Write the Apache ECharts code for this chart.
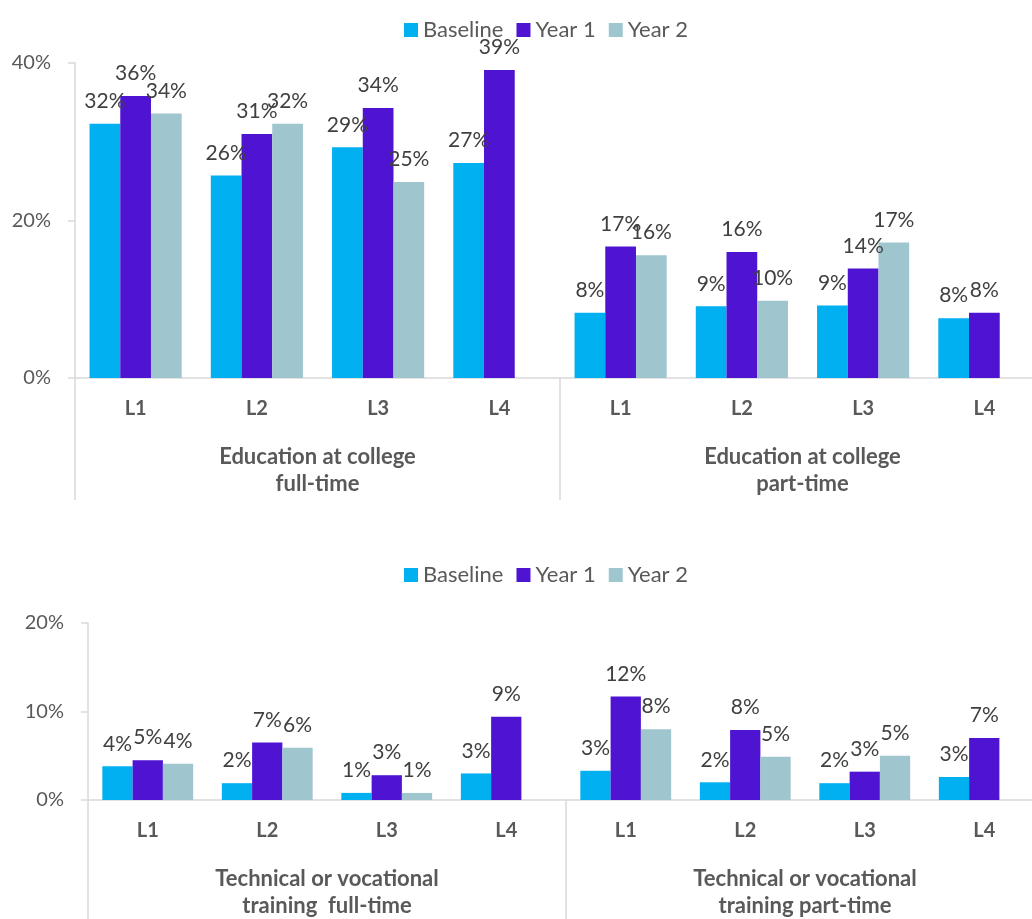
<!DOCTYPE html>
<html>
<head>
<meta charset="utf-8">
<script src="https://cdn.jsdelivr.net/npm/echarts@6/dist/echarts.min.js"></script>
<style>
  html, body { margin: 0; padding: 0; background: #ffffff; }
  #chart { width: 1032px; height: 919px; }
</style>
</head>
<body>
<div id="chart"></div>
<script>
// Category levels and the two groups shown under each panel
const levels = ['L1', 'L2', 'L3', 'L4'];
const collegeGroups = ['Education at college\nfull-time', 'Education at college\npart-time'];
const trainingGroups = ['Technical or vocational\ntraining  full-time', 'Technical or vocational\ntraining part-time'];
const seriesNames = ['Baseline', 'Year 1', 'Year 2'];

// Education at college: full-time L1-L4 then part-time L1-L4 (percent)
const collegeBaseline = [32.3, 25.7, 29.3, 27.3, 8.3, 9.1, 9.2, 7.6];
const collegeYear1    = [35.8, 31.0, 34.3, 39.1, 16.7, 16.0, 13.9, 8.3];
const collegeYear2    = [33.6, 32.3, 24.9, null, 15.6, 9.8, 17.2, null];

// Technical or vocational training: full-time L1-L4 then part-time L1-L4 (percent)
const trainingBaseline = [3.8, 1.9, 0.8, 3.0, 3.3, 2.0, 1.9, 2.6];
const trainingYear1    = [4.5, 6.5, 2.8, 9.4, 11.7, 7.9, 3.2, 7.0];
const trainingYear2    = [4.1, 5.9, 0.8, null, 8.0, 4.9, 5.0, null];

// Value axis ticks (percent)
const collegeTicks = [0, 20, 40];
const trainingTicks = [0, 10, 20];

const colors = ['#00B0F0', '#4E14D2', '#9FC6CE'];
const FONT = 'Lato';
const axisGrey = '#D9D9D9';
const textGrey = '#595959';

const collegeCats = collegeGroups.flatMap(() => levels);
const trainingCats = trainingGroups.flatMap(() => levels);

function valueAxis(gridIndex, ticks) {
  return {
    type: 'value',
    gridIndex: gridIndex,
    min: ticks[0],
    max: ticks[ticks.length - 1],
    interval: ticks[1] - ticks[0],
    axisLine: { show: true, lineStyle: { color: axisGrey, width: 1.5 } },
    axisTick: { show: true, length: 7, lineStyle: { color: axisGrey, width: 1.5 } },
    splitLine: { show: false },
    axisLabel: {
      formatter: '{value}%',
      color: textGrey,
      fontFamily: FONT,
      fontSize: 20,
      margin: 24
    }
  };
}

function levelAxis(gridIndex, cats) {
  return {
    type: 'category',
    gridIndex: gridIndex,
    position: 'bottom',
    data: cats,
    axisLine: { show: true, lineStyle: { color: axisGrey, width: 1.5 } },
    axisTick: { show: false },
    axisLabel: {
      interval: 0,
      color: textGrey,
      fontFamily: FONT,
      fontWeight: 'bold',
      fontSize: 20,
      margin: 21
    }
  };
}

function groupAxis(gridIndex, groups) {
  return {
    type: 'category',
    gridIndex: gridIndex,
    position: 'bottom',
    offset: 0,
    data: groups,
    axisLine: { show: false },
    axisTick: { show: true, interval: 0, length: 122, lineStyle: { color: axisGrey, width: 1.5 } },
    axisLabel: {
      interval: 0,
      color: textGrey,
      fontFamily: FONT,
      fontWeight: 'bold',
      fontSize: 22,
      lineHeight: 27,
      margin: 65
    }
  };
}

function barSeries(name, data, axisIndex, color) {
  return {
    name: name,
    type: 'bar',
    xAxisIndex: axisIndex,
    yAxisIndex: axisIndex === 0 ? 0 : 1,
    data: data,
    barGap: '0%',
    barCategoryGap: '24%',
    itemStyle: { color: color },
    label: {
      show: true,
      position: 'top',
      distance: 12,
      color: '#404040',
      fontFamily: FONT,
      fontSize: 21,
      formatter: (p) => Math.round(p.value) + '%'
    }
  };
}

function legend(top) {
  return {
    data: seriesNames,
    left: 399,
    top: top,
    itemWidth: 14,
    itemHeight: 14,
    itemGap: 13,
    icon: 'rect',
    textStyle: { color: textGrey, fontFamily: FONT, fontSize: 22 }
  };
}

const chart = echarts.init(document.getElementById('chart'), null, { renderer: 'canvas' });

// The plot area runs slightly past the right edge of the canvas
chart.setOption({
  backgroundColor: '#ffffff',
  animation: false,
  color: colors,
  legend: [legend(14), legend(559)],
  grid: [
    { left: 75, width: 970, top: 63, height: 315, outerBoundsMode: 'none', containLabel: false },
    { left: 88, width: 956, top: 623, height: 177, outerBoundsMode: 'none', containLabel: false }
  ],
  xAxis: [
    levelAxis(0, collegeCats),
    levelAxis(1, trainingCats),
    groupAxis(0, collegeGroups),
    groupAxis(1, trainingGroups)
  ],
  yAxis: [
    valueAxis(0, collegeTicks),
    valueAxis(1, trainingTicks)
  ],
  series: [
    barSeries(seriesNames[0], collegeBaseline, 0, colors[0]),
    barSeries(seriesNames[1], collegeYear1, 0, colors[1]),
    barSeries(seriesNames[2], collegeYear2, 0, colors[2]),
    barSeries(seriesNames[0], trainingBaseline, 1, colors[0]),
    barSeries(seriesNames[1], trainingYear1, 1, colors[1]),
    barSeries(seriesNames[2], trainingYear2, 1, colors[2])
  ]
});
</script>
</body>
</html>
